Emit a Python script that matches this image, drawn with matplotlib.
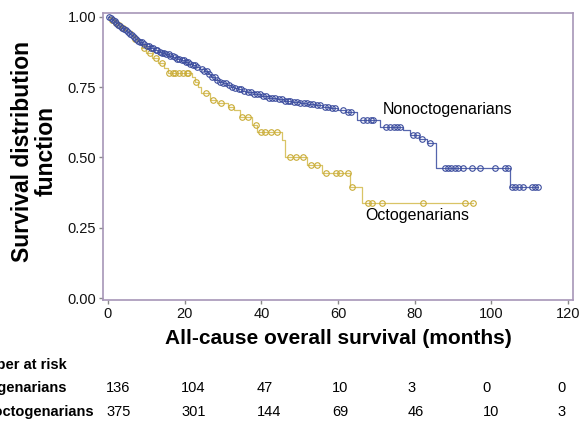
import numpy as np
import matplotlib
matplotlib.use("Agg")
import matplotlib.pyplot as plt

plt.rcParams['font.family'] = ['Liberation Sans', 'DejaVu Sans']

# ---------------- data ----------------
# Nonoctogenarians: step times and survival after each step
non_t = [0, 0.5, 1, 1.5, 2, 2.5, 3, 3.5, 4, 4.5, 5, 5.5, 6, 6.5, 7, 7.5, 8, 9, 10, 11,
         12, 13, 14, 15, 16, 17, 18, 19, 20, 21, 22, 23, 24, 25, 26, 27, 28, 29, 30, 31,
         32, 33, 34, 35, 36, 38, 40, 42, 44, 46, 48, 50, 52, 54, 56, 58, 60, 62, 64.9, 71,
         77, 78.8, 81, 83.1, 85.5, 104.9]
non_s = [1.0, 0.995, 0.99, 0.985, 0.978, 0.972, 0.967, 0.962, 0.957, 0.952, 0.945, 0.94,
         0.935, 0.929, 0.922, 0.916, 0.91, 0.903, 0.895, 0.888, 0.882, 0.877, 0.872, 0.868,
         0.862, 0.857, 0.851, 0.846, 0.84, 0.834, 0.829, 0.823, 0.815, 0.806, 0.797, 0.785,
         0.776, 0.77, 0.764, 0.758, 0.752, 0.748, 0.743, 0.738, 0.734, 0.727, 0.72, 0.713,
         0.708, 0.702, 0.698, 0.694, 0.69, 0.686, 0.68, 0.676, 0.668, 0.662, 0.633, 0.61,
         0.597, 0.58, 0.565, 0.55, 0.461, 0.394]
non_end = 112.2
non_cens = [0.3, 0.8, 1.2, 1.7, 2.2, 2.6, 3.1, 3.6, 4.2, 4.8, 5.3, 5.8, 6.3, 6.8, 7.3, 7.8,
            8.4, 8.9, 9.5, 10.1, 10.6, 11.2, 11.8, 12.4, 12.9, 13.5, 14.1, 14.6, 15.2, 15.8,
            16.3, 16.9, 17.5, 18.1, 18.6, 19.2, 19.8, 20.4, 20.9, 21.5, 22.1, 22.7, 23.3,
            24.4, 25.1, 25.7, 26.4, 27.2, 27.8, 28.5, 29.3, 30.1, 30.8, 31.6, 32.4, 33.2,
            34.1, 34.8, 35.6, 36.4, 37.2, 38.1, 38.9, 39.6, 40.4, 41.2, 42.1, 42.9, 43.6,
            44.5, 45.3, 46.1, 46.9, 47.6, 48.5, 49.3, 50.2, 51.1, 51.9, 52.8, 53.6, 54.4,
            55.3, 56.5, 57.4, 58.5, 59.3, 61.2, 62.6, 63.4, 66.5, 67.5, 68.5, 69.2, 72.5,
            73.5, 74.5, 75.3, 76.3, 79.5, 80.5, 82.0, 84.0, 88.0, 88.8, 89.6, 90.4, 91.2,
            92.6, 95.0, 97.0, 101.0, 103.6, 104.4, 105.3, 106.2, 107.2, 108.3, 110.5, 111.3,
            112.2]

# Octogenarians
oct_t = [0, 1, 2, 3, 4, 5, 6.2, 7, 8, 9, 10, 11.5, 13, 14.5, 15.7, 22, 22.7, 23.5, 24.2,
         26.6, 28.4, 31.3, 33, 34.4, 37.6, 38.8, 45.4, 46.2, 52, 55.8, 63.1, 66.2]
oct_s = [1.0, 0.99, 0.98, 0.97, 0.96, 0.95, 0.935, 0.92, 0.905, 0.89, 0.87, 0.855, 0.836,
         0.82, 0.80, 0.787, 0.77, 0.75, 0.73, 0.705, 0.694, 0.68, 0.668, 0.645, 0.616, 0.59,
         0.562, 0.50, 0.473, 0.445, 0.394, 0.337]
oct_end = 95.3
oct_cens = [1, 2, 3, 4, 7, 9.5, 11, 12.5, 14, 16, 17, 17.5, 18.5, 19.5, 20.5, 21, 23, 25.5,
            27.5, 29.5, 32, 35, 36.5, 38.5, 40, 41, 42.5, 44, 47.5, 49, 51, 53, 54.5, 57,
            59.5, 60.5, 62.5, 63.6, 67.8, 68.8, 71.4, 82.3, 93.1, 95.3]

risk_times = [0, 20, 40, 60, 80, 100, 120]
risk_groups = ["Octogenarians", "Nonoctogenarians"]
risk_oct = [136, 104, 47, 10, 3, 0, 0]
risk_non = [375, 301, 144, 69, 46, 10, 3]

# ---------------- styles ----------------
blue_line = "#5565ad"
blue_mark = "#3c4d9e"
yel_line = "#d9c466"
yel_mark = "#c9ab35"
frame_col = "#a796b8"

W, H = 581, 421
fig = plt.figure(figsize=(W / 100, H / 100), dpi=100)
ax = fig.add_axes([103 / W, 1 - 300 / H, (573 - 103) / W, (300 - 13) / H])


def step_value(times, surv, x):
    idx = np.searchsorted(np.asarray(times), np.asarray(x), side='right') - 1
    return np.asarray(surv)[idx]


def draw_curve(times, surv, end, cens, lc, mc):
    tt = list(times) + [end]
    ss = list(surv) + [surv[-1]]
    ax.step(tt, ss, where='post', color=lc, lw=0.9, zorder=2)
    cy = step_value(times, surv, cens)
    ax.plot(cens, cy, linestyle='none', marker='o', ms=4.0, mfc='none',
            mec=mc, mew=0.8, zorder=3)


draw_curve(oct_t, oct_s, oct_end, oct_cens, yel_line, yel_mark)
draw_curve(non_t, non_s, non_end, non_cens, blue_line, blue_mark)

ax.set_xlim(-1.3, 121.3)
ax.set_ylim(-0.007, 1.014)
ax.set_xticks(risk_times)
ax.set_yticks([0, 0.25, 0.5, 0.75, 1.0])
ax.set_yticklabels(["0.00", "0.25", "0.50", "0.75", "1.00"])
for sp in ax.spines.values():
    sp.set_color(frame_col)
    sp.set_linewidth(1.2)
ax.tick_params(axis='both', direction='out', length=3, width=1, color='#8a8a8a',
               labelsize=10.5, pad=2, labelcolor='#111111')

ax.set_xlabel("All-cause overall survival (months)", fontsize=15, fontweight='bold',
              labelpad=6)
fig.text(34 / W, 1 - 151 / H, "Survival distribution\nfunction", rotation=90,
         ha='center', va='center', fontsize=16.5, fontweight='bold', linespacing=1.05)

ax.text(71.7, 0.669, "Nonoctogenarians", fontsize=11.5, va='center', ha='left')
ax.text(67.0, 0.292, "Octogenarians", fontsize=11.5, va='center', ha='left')

# number at risk table
fig.text(67 / W, 1 - 365 / H, "Number at risk", fontsize=10.5, fontweight='bold',
         va='center', ha='right')
rows_y = [388, 412]
rows_right = [67, 94]
for g, vals, yy, rx in zip(risk_groups, [risk_oct, risk_non], rows_y, rows_right):
    fig.text(rx / W, 1 - yy / H, g, fontsize=10.5, fontweight='bold',
             va='center', ha='right')
    for t, v in zip(risk_times, vals):
        ax.annotate(str(v), xy=(-0.5 + t * 0.982, 0), xycoords=('data', 'axes fraction'),
                    xytext=(0, -(yy - 300) * 0.72), textcoords='offset points',
                    ha='left', va='center', fontsize=10.5, annotation_clip=False)

fig.savefig("out.png", dpi=100)
